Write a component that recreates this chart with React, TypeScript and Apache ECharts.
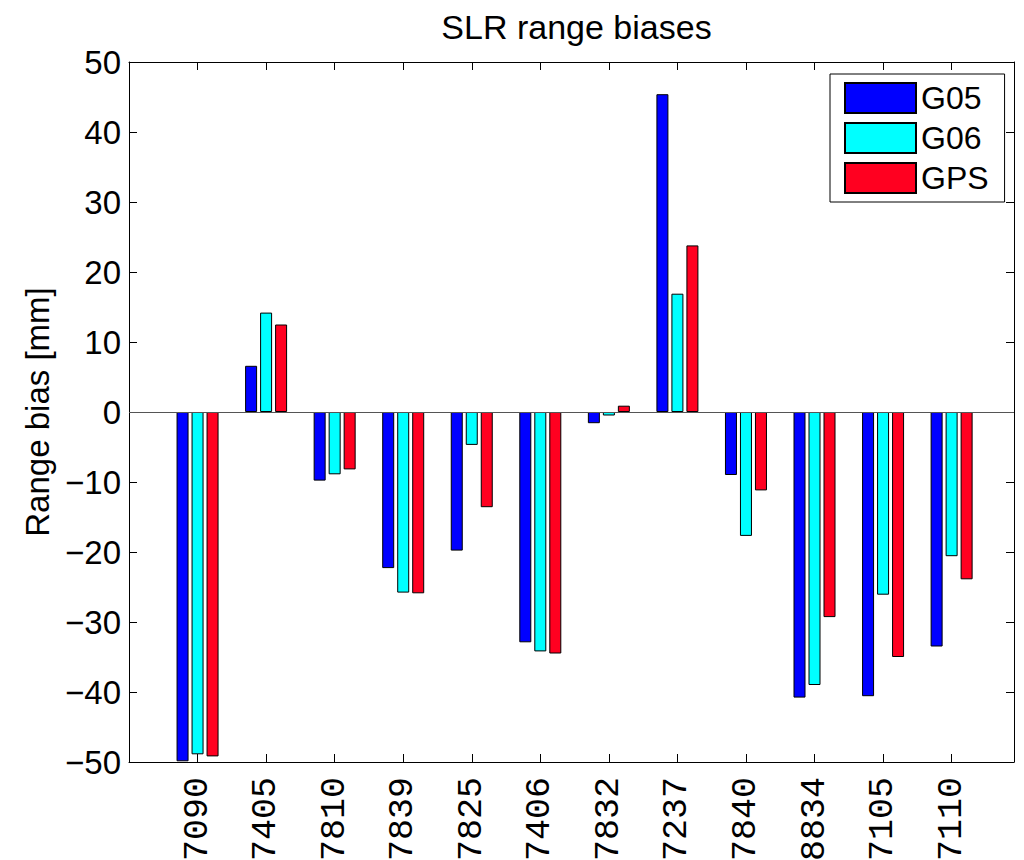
import React, { useEffect, useRef } from "react";
import * as echarts from "echarts";

// SLR stations along the x axis
const categories = [
  "7090", "7405", "7810", "7839", "7825", "7406",
  "7832", "7237", "7840", "8834", "7105", "7110",
];

// Range biases per station [mm]
const g05 = [-49.9, 6.6, -9.8, -22.3, -19.8, -32.9, -1.6, 45.4, -9.0, -40.8, -40.6, -33.5];
const g06 = [-48.9, 14.2, -8.9, -25.8, -4.7, -34.2, -0.5, 16.9, -17.7, -39.0, -26.1, -20.6];
const gps = [-49.2, 12.5, -8.2, -25.9, -13.6, -34.5, 0.9, 23.8, -11.2, -29.3, -35.0, -23.9];

const seriesNames = ["G05", "G06", "GPS"];
const seriesColors = ["#0000ff", "#00ffff", "#ff0020"];

// y axis ticks: -50 .. 50 step 10
const yMin = -50;
const yMax = 50;
const yStep = 10;

// x axis extent in station index units (stations at 1..12)
const xMin = 0;
const xMax = 12.91;

const SANS = "'Liberation Sans', Arial, Helvetica, sans-serif";
const MONO = "'Liberation Mono', 'Courier New', monospace";

const fmtY = (v: number) => (v < 0 ? "\u2212" + Math.abs(v) : String(v));
const fmtX = (v: number) => {
  const i = Math.round(v);
  if (Math.abs(v - i) > 1e-6 || i < 1 || i > categories.length) return "";
  return categories[i - 1];
};

export default function App() {
  const ref = useRef<HTMLDivElement>(null);

  useEffect(() => {
    if (!ref.current) return;
    const chart = echarts.init(ref.current, undefined, { renderer: "svg" });
    const values = [g05, g06, gps];

    const tickStyle = { show: true, inside: true, length: 8, lineStyle: { color: "#000", width: 1 } };
    const lineStyle = { show: true, lineStyle: { color: "#000", width: 1 } };

    chart.setOption({
      animation: false,
      backgroundColor: "#fff",
      title: {
        text: "SLR range biases",
        left: 571.5,
        top: 5,
        textAlign: "center",
        textStyle: { fontFamily: SANS, fontSize: 34, fontWeight: "normal", color: "#000" },
      },
      legend: {
        orient: "vertical",
        left: 830,
        top: 74,
        padding: [8, 16, 8, 14],
        itemWidth: 71,
        itemHeight: 30,
        itemGap: 8,
        icon: "rect",
        borderColor: "#000",
        borderWidth: 1,
        backgroundColor: "#fff",
        textStyle: { fontFamily: SANS, fontSize: 32, color: "#000" },
        data: seriesNames,
      },
      grid: {
        left: 129,
        top: 62,
        width: 885,
        height: 700,
        containLabel: false,
        outerBoundsMode: "none",
      },
      xAxis: [
        {
          type: "value",
          position: "bottom",
          min: xMin,
          max: xMax,
          interval: 1,
          splitLine: { show: false },
          axisLine: { ...lineStyle, onZero: false },
          axisTick: tickStyle,
          axisLabel: {
            rotate: 90,
            margin: 15,
            formatter: fmtX,
            fontFamily: MONO,
            fontSize: 35,
            color: "#000",
            showMinLabel: false,
            showMaxLabel: false,
          },
        },
        {
          type: "value",
          position: "top",
          min: xMin,
          max: xMax,
          interval: 1,
          splitLine: { show: false },
          axisLine: { ...lineStyle, onZero: false },
          axisTick: tickStyle,
          axisLabel: { show: false },
        },
      ],
      yAxis: [
        {
          type: "value",
          position: "left",
          min: yMin,
          max: yMax,
          interval: yStep,
          splitLine: { show: false },
          axisLine: { ...lineStyle, onZero: false },
          axisTick: tickStyle,
          axisLabel: { formatter: fmtY, fontFamily: SANS, fontSize: 33, color: "#000", margin: 8 },
          name: "Range bias [mm]",
          nameLocation: "middle",
          nameRotate: 90,
          nameGap: 74,
          nameTextStyle: { fontFamily: SANS, fontSize: 33, color: "#000" },
        },
        {
          type: "value",
          position: "right",
          min: yMin,
          max: yMax,
          interval: yStep,
          splitLine: { show: false },
          axisLine: { ...lineStyle, onZero: false },
          axisTick: tickStyle,
          axisLabel: { show: false },
        },
      ],
      series: seriesNames.map((name, s) => ({
        name,
        type: "bar",
        xAxisIndex: 0,
        yAxisIndex: 0,
        barWidth: 12,
        barGap: "25%",
        itemStyle: { color: seriesColors[s], borderColor: "#000", borderWidth: 1 },
        data: categories.map((_, i) => [i + 1, values[s][i]]),
        ...(s === 0
          ? {
              markLine: {
                silent: true,
                symbol: "none",
                label: { show: false },
                lineStyle: { color: "#555", width: 1.2, type: "solid" },
                data: [{ yAxis: 0 }],
              },
            }
          : {}),
      })),
    });

    return () => chart.dispose();
  }, []);

  return (
    <div
      ref={ref}
      style={{ position: "fixed", left: 0, top: 0, width: 1024, height: 860, background: "#fff" }}
    />
  );
}
